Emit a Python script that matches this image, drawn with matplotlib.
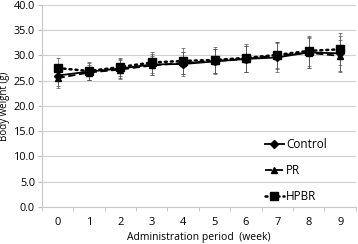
import numpy as np
import matplotlib
matplotlib.use("Agg")
import matplotlib.pyplot as plt

plt.rcParams["font.family"] = ["Open Sans", "DejaVu Sans"]

weeks = [0, 1, 2, 3, 4, 5, 6, 7, 8, 9]
control = [26.0, 26.8, 27.4, 28.2, 28.3, 28.8, 29.3, 29.6, 30.6, 30.4]
control_sd = [2.0, 1.6, 1.8, 2.0, 2.3, 2.4, 2.6, 2.8, 3.0, 3.4]
pr = [25.5, 26.6, 27.2, 28.0, 28.5, 28.9, 29.3, 30.0, 30.5, 29.9]
pr_sd = [1.9, 1.5, 1.9, 1.8, 2.2, 2.3, 2.5, 2.6, 3.0, 3.2]
hpbr = [27.5, 26.9, 27.7, 28.6, 28.9, 29.1, 29.5, 30.1, 30.9, 31.2]
hpbr_sd = [2.0, 1.7, 1.8, 2.0, 2.5, 2.6, 2.8, 2.6, 3.0, 3.2]

fig = plt.figure(figsize=(3.58, 2.44), dpi=100)
ax = fig.add_axes([0.117, 0.152, 0.877, 0.828])

# error bars first, then the lines with markers on top
for vals, sd in [(control, control_sd), (pr, pr_sd), (hpbr, hpbr_sd)]:
    ax.errorbar(weeks, vals, yerr=sd, fmt="none", ecolor="#555555",
                elinewidth=0.5, capsize=1.5, capthick=0.5, zorder=2)

ax.plot(weeks, control, color="black", lw=1.3, ls="-", marker="D", ms=4,
        label="Control", zorder=3)
ax.plot(weeks, pr, color="black", lw=1.3, ls=(0, (4, 2)), marker="^", ms=4.5,
        label="PR", zorder=3)
ax.plot(weeks, hpbr, color="black", lw=1.8, ls=(0, (0.8, 1.6)),
        dash_capstyle="round", marker="s", ms=6, label="HPBR", zorder=3)

ax.set_xlim(-0.5, 9.5)
ax.set_ylim(0, 40)
ax.set_yticks(np.arange(0, 40.1, 5))
ax.set_yticklabels([f"{v:.1f}" for v in np.arange(0, 40.1, 5)])
ax.set_xticks(weeks)
ax.set_xticks(np.arange(-0.5, 9.6, 1), minor=True)
ax.tick_params(axis="x", which="major", length=0, labelsize=8, pad=7)
ax.tick_params(axis="x", which="minor", length=3, color="#bbbbbb", direction="out")
ax.tick_params(axis="y", length=3, color="#bbbbbb", labelsize=7.8, pad=2)
ax.yaxis.grid(True, color="#d0d0d0", lw=0.8)
ax.set_axisbelow(True)
for s in ["top", "right"]:
    ax.spines[s].set_visible(False)
ax.spines["left"].set_color("#c8c8c8")
ax.spines["bottom"].set_color("#c8c8c8")

ax.set_xlabel("Administration period  (week)", fontsize=7.5, labelpad=3)
ax.set_ylabel("Body weight (g)", fontsize=7)
ax.yaxis.set_label_coords(-0.1, 0.5)

ax.legend(loc="center left", bbox_to_anchor=(0.71, 0.178), frameon=False, fontsize=8.5,
          handlelength=1.6, handletextpad=0.2, labelspacing=1.1,
          borderpad=0, borderaxespad=0)

fig.savefig("out.png", dpi=100)
